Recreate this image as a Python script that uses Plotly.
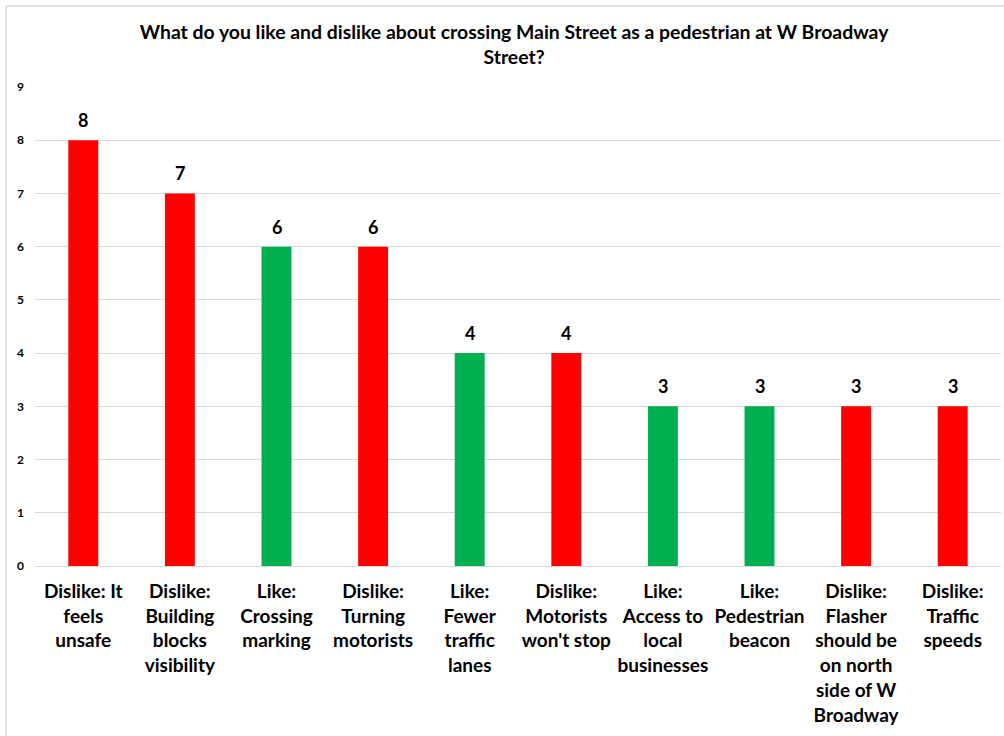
import plotly.graph_objects as go

categories = [
    "Dislike: It<br>feels<br>unsafe",
    "Dislike:<br>Building<br>blocks<br>visibility",
    "Like:<br>Crossing<br>marking",
    "Dislike:<br>Turning<br>motorists",
    "Like:<br>Fewer<br>traffic<br>lanes",
    "Dislike:<br>Motorists<br>won't stop",
    "Like:<br>Access to<br>local<br>businesses",
    "Like:<br>Pedestrian<br>beacon",
    "Dislike:<br>Flasher<br>should be<br>on north<br>side of W<br>Broadway",
    "Dislike:<br>Traffic<br>speeds",
]
values = [8, 7, 6, 6, 4, 4, 3, 3, 3, 3]
kinds = ["Dislike", "Dislike", "Like", "Dislike", "Like", "Dislike", "Like", "Like", "Dislike", "Dislike"]
color_map = {"Like": "#00B050", "Dislike": "#FF0000"}
colors = [color_map[k] for k in kinds]

FONT = "Lato"

fig = go.Figure(
    go.Bar(
        x=categories,
        y=values,
        marker=dict(color=colors, line=dict(width=0)),
        width=0.31,
        hoverinfo="x+y",
    )
)

# value labels above the bars, placed in data coordinates
for cat, val in zip(categories, values):
    fig.add_annotation(
        x=cat, y=val, xref="x", yref="y",
        text=str(val), showarrow=False,
        yanchor="bottom", yshift=7,
        font=dict(family=FONT, size=18, color="#000000", weight="bold"),
    )

fig.update_layout(
    width=1004,
    height=736,
    paper_bgcolor="white",
    plot_bgcolor="white",
    margin=dict(l=35, r=3, t=87, b=170, autoexpand=False),
    showlegend=False,
    title=dict(
        text="What do you like and dislike about crossing Main Street as a pedestrian at W Broadway<br>Street?",
        x=0.512,
        xanchor="center",
        y=0.947,
        yanchor="top",
        font=dict(family=FONT, size=19.4, color="#000000", weight="bold"),
    ),
    xaxis=dict(
        showgrid=False,
        showline=False,
        automargin=False,
        tickfont=dict(family=FONT, size=19, color="#000000", weight="bold"),
        ticklabelstandoff=12,
        tickangle=0,
    ),
    yaxis=dict(
        range=[0, 9],
        dtick=1,
        showgrid=True,
        gridcolor="#D9D9D9",
        gridwidth=1,
        zeroline=True,
        zerolinecolor="#D9D9D9",
        zerolinewidth=1,
        showline=False,
        automargin=False,
        tickfont=dict(family=FONT, size=12, color="#000000", weight="bold"),
        ticklabelstandoff=10,
    ),
    shapes=[
        dict(type="line", xref="paper", yref="paper", x0=-0.030, x1=-0.030, y0=-0.36, y1=1.169,
             line=dict(color="#D9D9D9", width=1.5)),
        dict(type="line", xref="paper", yref="paper", x0=-0.030, x1=1.01, y0=1.169, y1=1.169,
             line=dict(color="#D9D9D9", width=1.5)),
    ],
)

fig.write_html(
    "out.html",
    config={"displayModeBar": False},
    post_script="document.body.style.margin='0';document.body.style.overflow='hidden';",
)
